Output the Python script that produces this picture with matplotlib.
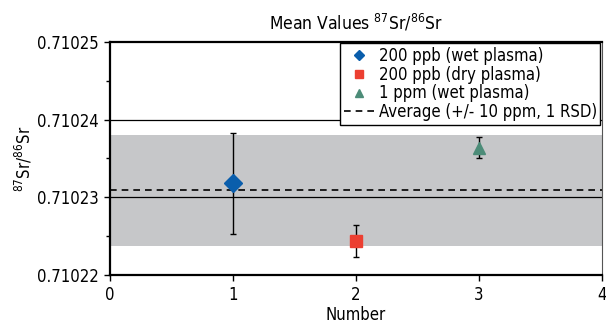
import matplotlib
matplotlib.use("Agg")
import matplotlib.pyplot as plt
from matplotlib.ticker import MultipleLocator, FormatStrFormatter

FONT = ['DejaVu Sans']
plt.rcParams['font.family'] = FONT
plt.rcParams['font.stretch'] = 'condensed'
plt.rcParams['mathtext.fontset'] = 'custom'
plt.rcParams['mathtext.rm'] = 'DejaVu Sans:stretch=condensed'
plt.rcParams['mathtext.default'] = 'regular'

# Data
labels = ['200 ppb (wet plasma)', '200 ppb (dry plasma)', '1 ppm (wet plasma)']
x_vals = [1, 2, 3]
y_vals = [0.7102318, 0.7102244, 0.7102364]
y_errs = [0.0000065, 0.0000020, 0.0000014]
markers = ['D', 's', '^']
colors = ['#0a5eac', '#ec3f31', '#4c8c78']
avg = 0.7102309
rsd_ppm = 10
avg_label = 'Average (+/- 10 ppm, 1 RSD)'

fig = plt.figure(figsize=(6.06, 3.28), dpi=100)
ax = fig.add_axes([0.1815, 0.1607, 0.8119, 0.7122])

band = avg * rsd_ppm * 1e-6
ax.axhspan(avg - band, avg + band, color='#c6c7c9', zorder=0, lw=0)
for g in [0.71023, 0.71024]:
    ax.axhline(g, color='black', lw=0.9, zorder=1)
dash_h = ax.axhline(avg, color='black', lw=1.2, ls=(0, (4, 3)), zorder=2, label=avg_label)

msizes = [9, 8.5, 9]
handles = []
for xv, yv, ye, m, c, lab, ms in zip(x_vals, y_vals, y_errs, markers, colors, labels, msizes):
    ax.errorbar(xv, yv, yerr=ye, fmt='none', ecolor='black', elinewidth=1.0,
                capsize=2.3, capthick=1.0, zorder=3)
    h = ax.plot(xv, yv, ls='none', marker=m, color=c, markersize=ms,
                markeredgecolor=c, zorder=4, label=lab)[0]
    handles.append(h)

ax.set_xlim(0, 4)
ax.set_ylim(0.71022, 0.71025)
ax.xaxis.set_major_locator(MultipleLocator(1))
ax.yaxis.set_major_locator(MultipleLocator(0.00001))
ax.yaxis.set_minor_locator(MultipleLocator(0.000005))
ax.yaxis.set_major_formatter(FormatStrFormatter('%.5f'))
ax.tick_params(axis='both', which='major', direction='out', length=4, width=1,
               labelsize=12, pad=4)
ax.tick_params(axis='y', which='minor', direction='out', length=3, width=1)

for s in ['left', 'bottom', 'top']:
    ax.spines[s].set_linewidth(1.6)
ax.spines['right'].set_linewidth(0.8)
ax.spines['right'].set_color('#555555')

ax.set_title(r'Mean Values $^{87}$Sr/$^{86}$Sr', fontsize=12.5, pad=9)
ax.set_xlabel('Number', fontsize=12, labelpad=1)
ax.set_ylabel(r'$^{87}$Sr/$^{86}$Sr', fontsize=12, labelpad=2)

leg = ax.legend(handles + [dash_h], labels + [avg_label], loc='upper right',
                fontsize=12, frameon=True, fancybox=False, edgecolor='black',
                framealpha=1, borderpad=0.2, labelspacing=0.05, handlelength=1.8,
                handletextpad=0.3, markerscale=0.6, borderaxespad=0.1)
leg.get_frame().set_linewidth(1.0)

fig.savefig('out.png', dpi=100)
